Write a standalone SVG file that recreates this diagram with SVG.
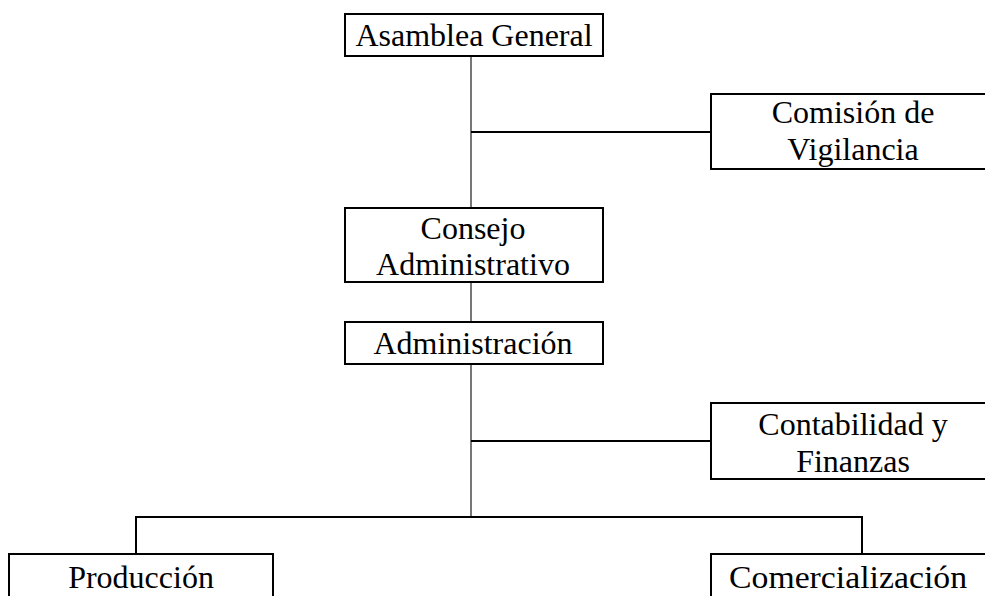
<svg xmlns="http://www.w3.org/2000/svg" width="985" height="596" viewBox="0 0 985 596">
<style>
.box{fill:#fff;stroke:#000;stroke-width:2}
.t{font-family:"Liberation Serif","Times New Roman",serif;font-size:32px;fill:#000;text-anchor:middle}
.v{stroke:#555;stroke-width:1.6;fill:none}
.h{stroke:#000;stroke-width:2;fill:none}
</style>
<rect width="985" height="596" fill="#fff"/>
<g id="connectors">
<line class="v" x1="471" y1="56" x2="471" y2="208"/>
<line class="h" x1="471" y1="132" x2="711" y2="132"/>
<line class="v" x1="471" y1="282" x2="471" y2="322"/>
<line class="v" x1="471" y1="364" x2="471" y2="517"/>
<line class="h" x1="471" y1="441" x2="711" y2="441"/>
<polyline class="h" points="136,554 136,517 862,517 862,554"/>
</g>
<g id="asamblea">
<rect class="box" x="345" y="14" width="258" height="42"/>
<text class="t" x="474" y="46">Asamblea General</text>
</g>
<g id="comision">
<rect class="box" x="711" y="94" width="290" height="75"/>
<text class="t" x="853" y="123">Comisión de</text>
<text class="t" x="853" y="160">Vigilancia</text>
</g>
<g id="consejo">
<rect class="box" x="345" y="208" width="258" height="74"/>
<text class="t" x="473" y="239">Consejo</text>
<text class="t" x="473" y="275">Administrativo</text>
</g>
<g id="administracion">
<rect class="box" x="345" y="322" width="258" height="42"/>
<text class="t" x="473" y="354">Administración</text>
</g>
<g id="contabilidad">
<rect class="box" x="711" y="403" width="290" height="76"/>
<text class="t" x="853" y="435">Contabilidad y</text>
<text class="t" x="853" y="472">Finanzas</text>
</g>
<g id="produccion">
<rect class="box" x="9" y="554" width="264" height="60"/>
<text class="t" x="141" y="588">Producción</text>
</g>
<g id="comercializacion">
<rect class="box" x="711" y="554" width="290" height="60"/>
<text class="t" x="848" y="588" textLength="238" lengthAdjust="spacingAndGlyphs">Comercialización</text>
</g>
</svg>
